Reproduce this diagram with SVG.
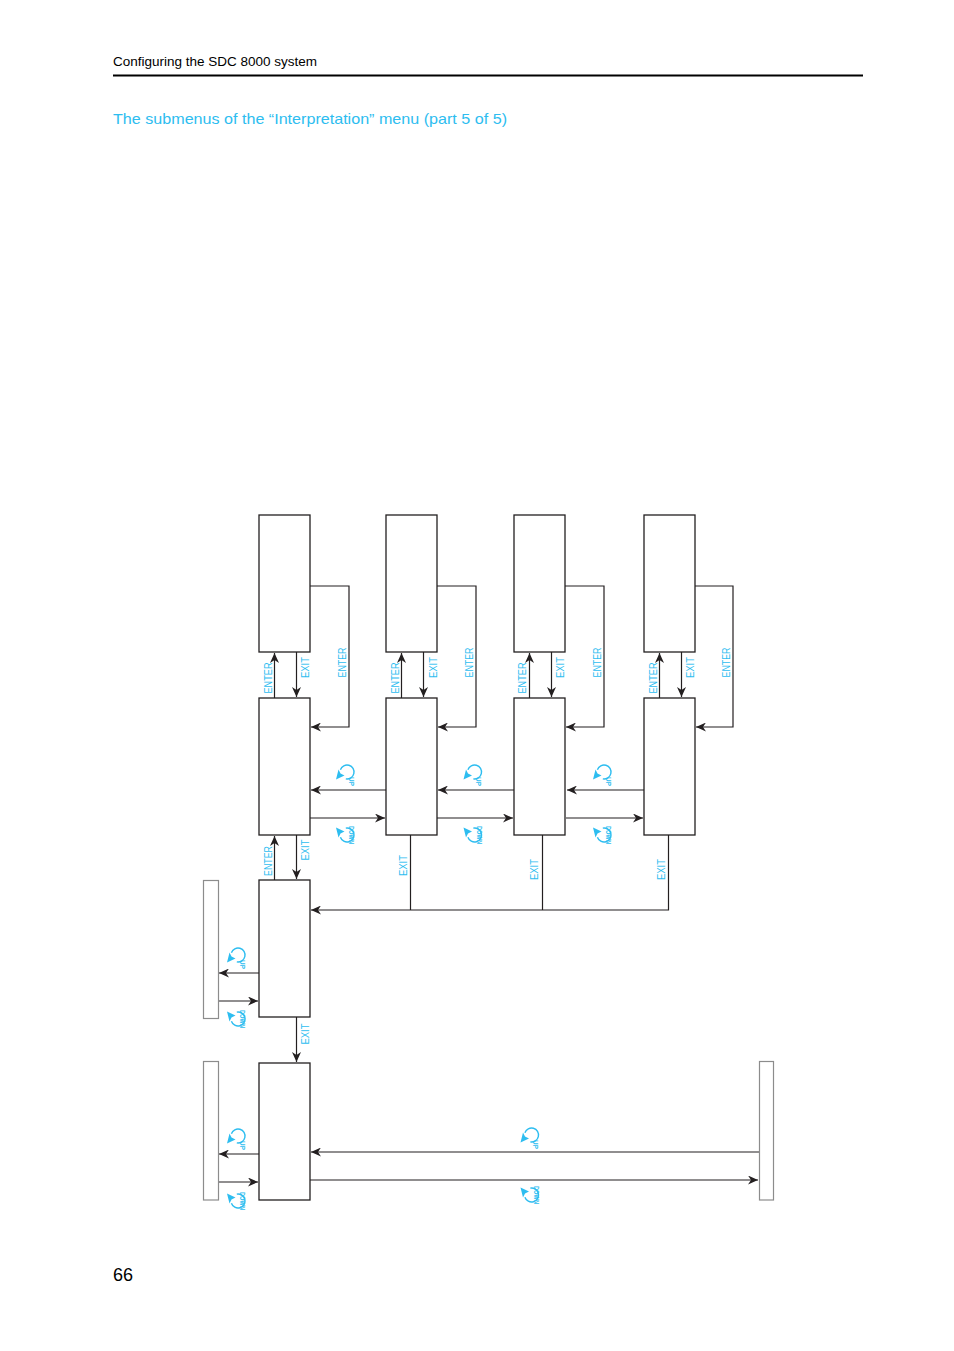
<svg xmlns="http://www.w3.org/2000/svg" xmlns:xlink="http://www.w3.org/1999/xlink" width="954" height="1351" viewBox="0 0 954 1351">
<style>
.box{fill:#fff;stroke:#231f20;stroke-width:1.3}
.bar{fill:#fff;stroke:#8c8c8c;stroke-width:1.2}
.con{fill:none;stroke:#231f20;stroke-width:1.2}
.arr{marker-end:url(#ah)}
.lbl{font-family:"Liberation Sans","DejaVu Sans",sans-serif;font-size:11.5px;fill:#2dbdf0;text-anchor:middle}
.ic{font-family:"Liberation Sans","DejaVu Sans",sans-serif;font-size:7.5px;font-weight:bold;fill:#2dbdf0}
.arc{fill:none;stroke:#2dbdf0;stroke-width:1.4}
.tip{fill:#2dbdf0}
</style>
<defs>
<marker id="ah" markerUnits="userSpaceOnUse" markerWidth="11" markerHeight="9" refX="10" refY="4.5" orient="auto">
<path d="M0,0 L10,4.5 L0,9 L3,4.5 z" fill="#231f20"/>
</marker>
<g id="upic">
<path class="arc" d="M-1.2,6.9 A7,7 0 1 0 -6.6,-2.3"/>
<path class="tip" d="M-11,7.5 L-8.5,-2.5 L-6.5,1.5 L-2.5,3.5 z"/>
</g>
<g id="dnic">
<g transform="scale(1,-1)">
<path class="arc" d="M-1.2,6.9 A7,7 0 1 0 -6.6,-2.3"/>
<path class="tip" d="M-11,7.5 L-8.5,-2.5 L-6.5,1.5 L-2.5,3.5 z"/>
</g>
</g>
</defs>
<rect width="954" height="1351" fill="#fff"/>

<g id="header">
<text x="113" y="66" font-family="Liberation Sans, DejaVu Sans, sans-serif" font-size="13" fill="#000" textLength="204" lengthAdjust="spacingAndGlyphs">Configuring the SDC 8000 system</text>
<line x1="113" y1="75.5" x2="863" y2="75.5" stroke="#000" stroke-width="2"/>
<text x="113" y="123.5" font-family="Liberation Sans, DejaVu Sans, sans-serif" font-size="15" fill="#2dbdf0" textLength="394" lengthAdjust="spacingAndGlyphs">The submenus of the “Interpretation” menu (part 5 of 5)</text>
<text x="113" y="1281" font-family="Liberation Sans, DejaVu Sans, sans-serif" font-size="18" fill="#000">66</text>
</g>

<g id="connectors">
<path class="con arr" d="M310,586 H349 V727 H311"/>
<path class="con arr" d="M437,586 H476 V727 H438"/>
<path class="con arr" d="M565,586 H604 V727 H566"/>
<path class="con arr" d="M695,586 H733 V727 H696"/>
<path class="con arr" d="M274.5,698 V653"/>
<path class="con arr" d="M296.5,652 V697"/>
<path class="con arr" d="M401.5,698 V653"/>
<path class="con arr" d="M423.5,652 V697"/>
<path class="con arr" d="M529.5,698 V653"/>
<path class="con arr" d="M551.5,652 V697"/>
<path class="con arr" d="M659.5,698 V653"/>
<path class="con arr" d="M681.5,652 V697"/>
<path class="con arr" d="M386,790 H311"/>
<path class="con arr" d="M514,790 H438"/>
<path class="con arr" d="M644,790 H567"/>
<path class="con arr" d="M310,818 H385"/>
<path class="con arr" d="M437,818 H513"/>
<path class="con arr" d="M566,818 H643"/>
<path class="con arr" d="M274.5,880 V836"/>
<path class="con arr" d="M296.5,835 V879"/>
<path class="con" d="M410.5,835 V910"/>
<path class="con" d="M542.5,835 V910"/>
<path class="con arr" d="M668.5,835 V910 H311"/>
<path class="con arr" d="M296.5,1017 V1062"/>
<path class="con arr" d="M259,973 H219"/>
<path class="con arr" d="M218,1001 H258"/>
<path class="con arr" d="M259,1154 H219"/>
<path class="con arr" d="M218,1182 H258"/>
<path class="con arr" d="M759,1152 H311"/>
<path class="con arr" d="M310,1180 H758"/>
</g>

<g id="labels">
<text class="lbl" transform="translate(271.5,678) rotate(-90)" textLength="31" lengthAdjust="spacingAndGlyphs">ENTER</text>
<text class="lbl" transform="translate(309,667.5) rotate(-90)" textLength="21" lengthAdjust="spacingAndGlyphs">EXIT</text>
<text class="lbl" transform="translate(346,662.5) rotate(-90)" textLength="30" lengthAdjust="spacingAndGlyphs">ENTER</text>
<text class="lbl" transform="translate(398.5,678) rotate(-90)" textLength="31" lengthAdjust="spacingAndGlyphs">ENTER</text>
<text class="lbl" transform="translate(436.5,667.5) rotate(-90)" textLength="21" lengthAdjust="spacingAndGlyphs">EXIT</text>
<text class="lbl" transform="translate(473,662.5) rotate(-90)" textLength="30" lengthAdjust="spacingAndGlyphs">ENTER</text>
<text class="lbl" transform="translate(526,678) rotate(-90)" textLength="31" lengthAdjust="spacingAndGlyphs">ENTER</text>
<text class="lbl" transform="translate(564,667.5) rotate(-90)" textLength="21" lengthAdjust="spacingAndGlyphs">EXIT</text>
<text class="lbl" transform="translate(601,662.5) rotate(-90)" textLength="30" lengthAdjust="spacingAndGlyphs">ENTER</text>
<text class="lbl" transform="translate(656.5,678) rotate(-90)" textLength="31" lengthAdjust="spacingAndGlyphs">ENTER</text>
<text class="lbl" transform="translate(694,667.5) rotate(-90)" textLength="21" lengthAdjust="spacingAndGlyphs">EXIT</text>
<text class="lbl" transform="translate(730,662.5) rotate(-90)" textLength="30" lengthAdjust="spacingAndGlyphs">ENTER</text>
<text class="lbl" transform="translate(271.5,861) rotate(-90)" textLength="30" lengthAdjust="spacingAndGlyphs">ENTER</text>
<text class="lbl" transform="translate(309,850) rotate(-90)" textLength="21" lengthAdjust="spacingAndGlyphs">EXIT</text>
<text class="lbl" transform="translate(406.5,865.5) rotate(-90)" textLength="21" lengthAdjust="spacingAndGlyphs">EXIT</text>
<text class="lbl" transform="translate(538,869.5) rotate(-90)" textLength="21" lengthAdjust="spacingAndGlyphs">EXIT</text>
<text class="lbl" transform="translate(664.5,869.5) rotate(-90)" textLength="21" lengthAdjust="spacingAndGlyphs">EXIT</text>
<text class="lbl" transform="translate(309.3,1034) rotate(-90)" textLength="21" lengthAdjust="spacingAndGlyphs">EXIT</text>
</g>

<g id="icons">
<use xlink:href="#upic" href="#upic" x="347" y="772"/>
<text class="ic" transform="translate(348.5,777) rotate(90)" textLength="9" lengthAdjust="spacingAndGlyphs">UP</text>
<use xlink:href="#dnic" href="#dnic" x="347" y="835"/>
<text class="ic" transform="translate(349,826) rotate(90)" textLength="18" lengthAdjust="spacingAndGlyphs">DOWN</text>
<use xlink:href="#upic" href="#upic" x="474.5" y="772"/>
<text class="ic" transform="translate(476,777) rotate(90)" textLength="9" lengthAdjust="spacingAndGlyphs">UP</text>
<use xlink:href="#dnic" href="#dnic" x="474.5" y="835"/>
<text class="ic" transform="translate(476.5,826) rotate(90)" textLength="18" lengthAdjust="spacingAndGlyphs">DOWN</text>
<use xlink:href="#upic" href="#upic" x="604" y="772"/>
<text class="ic" transform="translate(605.5,777) rotate(90)" textLength="9" lengthAdjust="spacingAndGlyphs">UP</text>
<use xlink:href="#dnic" href="#dnic" x="604" y="835"/>
<text class="ic" transform="translate(606,826) rotate(90)" textLength="18" lengthAdjust="spacingAndGlyphs">DOWN</text>
<use xlink:href="#upic" href="#upic" x="238" y="955"/>
<text class="ic" transform="translate(239.5,960) rotate(90)" textLength="9" lengthAdjust="spacingAndGlyphs">UP</text>
<use xlink:href="#dnic" href="#dnic" x="238" y="1019"/>
<text class="ic" transform="translate(240,1010) rotate(90)" textLength="18" lengthAdjust="spacingAndGlyphs">DOWN</text>
<use xlink:href="#upic" href="#upic" x="238" y="1136"/>
<text class="ic" transform="translate(239.5,1141) rotate(90)" textLength="9" lengthAdjust="spacingAndGlyphs">UP</text>
<use xlink:href="#dnic" href="#dnic" x="238" y="1201"/>
<text class="ic" transform="translate(240,1192) rotate(90)" textLength="18" lengthAdjust="spacingAndGlyphs">DOWN</text>
<use xlink:href="#upic" href="#upic" x="531.5" y="1135"/>
<text class="ic" transform="translate(533,1140) rotate(90)" textLength="9" lengthAdjust="spacingAndGlyphs">UP</text>
<use xlink:href="#dnic" href="#dnic" x="531.5" y="1195"/>
<text class="ic" transform="translate(533.5,1186) rotate(90)" textLength="18" lengthAdjust="spacingAndGlyphs">DOWN</text>
</g>

<g id="n_top1"><rect class="box" x="259" y="515" width="51" height="137"/></g>
<g id="n_top2"><rect class="box" x="386" y="515" width="51" height="137"/></g>
<g id="n_top3"><rect class="box" x="514" y="515" width="51" height="137"/></g>
<g id="n_top4"><rect class="box" x="644" y="515" width="51" height="137"/></g>
<g id="n_mid1"><rect class="box" x="259" y="698" width="51" height="137"/></g>
<g id="n_mid2"><rect class="box" x="386" y="698" width="51" height="137"/></g>
<g id="n_mid3"><rect class="box" x="514" y="698" width="51" height="137"/></g>
<g id="n_mid4"><rect class="box" x="644" y="698" width="51" height="137"/></g>
<g id="n_lower"><rect class="box" x="259" y="880" width="51" height="137"/></g>
<g id="n_bottom"><rect class="box" x="259" y="1063" width="51" height="137"/></g>
<g id="n_bar_left1"><rect class="bar" x="203.5" y="880.5" width="15" height="138"/></g>
<g id="n_bar_left2"><rect class="bar" x="203.5" y="1061.5" width="15" height="138.5"/></g>
<g id="n_bar_right"><rect class="bar" x="759.5" y="1061.5" width="14" height="138.5"/></g>
</svg>
